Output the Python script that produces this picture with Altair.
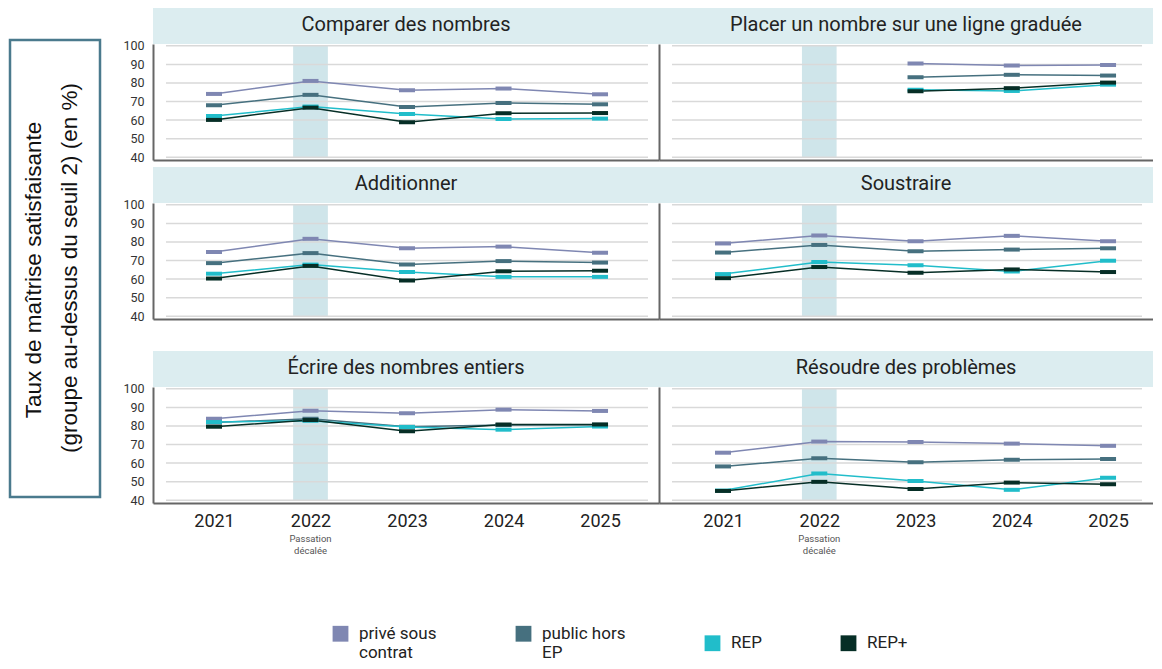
import altair as alt
import pandas as pd

years = [2021, 2022, 2023, 2024, 2025]
series = ["privé sous contrat", "public hors EP", "REP", "REP+"]
colors = ["#7f87b2", "#46707f", "#21bdca", "#062e26"]
skills = [
    "Comparer des nombres",
    "Placer un nombre sur une ligne graduée",
    "Additionner",
    "Soustraire",
    "Écrire des nombres entiers",
    "Résoudre des problèmes",
]
y_ticks = [40, 50, 60, 70, 80, 90, 100]
shifted_year = 2022
title_lines = ["Taux de maîtrise satisfaisante", "(groupe au-dessus du seuil 2) (en %)"]

# values per series, one list per skill (same order as skills)
prive = [
    [74.1, 81.1, 76.1, 77.0, 73.9],
    [None, None, 90.5, 89.4, 89.7],
    [74.6, 81.7, 76.6, 77.5, 74.2],
    [79.2, 83.5, 80.4, 83.3, 80.4],
    [83.9, 88.2, 86.8, 88.8, 88.1],
    [65.6, 71.6, 71.4, 70.5, 69.3],
]
public = [
    [68.0, 73.6, 67.1, 69.2, 68.5],
    [None, None, 83.1, 84.4, 84.0],
    [68.6, 74.0, 67.8, 69.7, 68.9],
    [74.3, 78.4, 75.0, 75.9, 76.6],
    [81.9, 83.9, 79.6, 80.5, 80.7],
    [58.2, 62.6, 60.4, 61.8, 62.2],
]
rep = [
    [62.2, 67.3, 63.3, 60.6, 60.8],
    [None, None, 76.4, 75.7, 79.1],
    [62.9, 67.8, 63.8, 61.2, 61.2],
    [62.7, 69.2, 67.4, 64.1, 69.9],
    [82.1, 82.8, 79.4, 78.0, 79.7],
    [45.2, 54.4, 50.4, 45.6, 52.1],
]
rep_plus = [
    [60.1, 66.7, 58.8, 63.7, 63.8],
    [None, None, 75.5, 77.2, 80.2],
    [60.3, 67.1, 59.2, 64.2, 64.5],
    [60.5, 66.5, 63.4, 65.2, 63.8],
    [79.6, 83.2, 77.2, 80.8, 80.8],
    [45.0, 49.9, 46.1, 49.5, 48.6],
]

rows = []
for s_name, arr in zip(series, [prive, public, rep, rep_plus]):
    for k, skill in enumerate(skills):
        for yr, v in zip(years, arr[k]):
            if v is not None:
                rows.append({"skill": skill, "series": s_name, "year": yr, "value": v})
df = pd.DataFrame(rows)
grid_df = pd.DataFrame({"tick": y_ticks})
band_df = pd.DataFrame({"year": [shifted_year]})

H = 116
STRIP_H = 36
DOMAIN_COLOR = "#666666"
color_scale = alt.Scale(domain=series, range=colors)


def make_legend():
    return alt.Legend(
        orient="none", legendX=323, legendY=617, direction="horizontal", columns=4,
        title=None, symbolType="square", symbolSize=250, symbolStrokeWidth=0,
        symbolOpacity=1,
        labelFontSize=17, labelFont="Roboto", labelColor="#222222", columnPadding=78,
        labelOffset=10, labelLimit=200,
        labelExpr="datum.label == 'privé sous contrat' ? ['privé sous', 'contrat'] : "
                  "datum.label == 'public hors EP' ? ['public hors', 'EP'] : datum.label",
    )


def panel(k, col, row):
    skill = skills[k]
    W = 506 if col == 0 else 494
    xdom = [2020.368, 2025.611] if col == 0 else [2020.335, 2025.467]
    if row == 2:
        xaxis = alt.Axis(values=years, format="d", labelFontSize=18, labelFont="Roboto",
                         labelColor="#222222", ticks=False, domain=True, domainColor=DOMAIN_COLOR,
                         domainWidth=2, grid=False, title=None, labelPadding=9)
    else:
        xaxis = alt.Axis(labels=False, ticks=False, domain=True, domainColor=DOMAIN_COLOR,
                         domainWidth=2, grid=False, title=None, minExtent=0, maxExtent=1)
    if col == 0:
        yaxis = alt.Axis(values=y_ticks, labelFontSize=12.5, labelFont="Roboto", labelColor="#333333",
                         ticks=False, domain=True, domainColor=DOMAIN_COLOR, domainWidth=2,
                         grid=False, title=None, labelPadding=9)
    else:
        yaxis = alt.Axis(labels=False, ticks=False, domain=True, domainColor=DOMAIN_COLOR,
                         domainWidth=2, grid=False, title=None, minExtent=0, maxExtent=1)
    xscale = alt.Scale(domain=xdom, nice=False, zero=False)
    yscale = alt.Scale(domain=[38.5, 101], nice=False, zero=False)

    band = alt.Chart(band_df).transform_calculate(
        x1="datum.year - 0.18", x2="datum.year + 0.18"
    ).mark_rect(color="#cfe5ea").encode(
        x=alt.X("x1:Q", scale=xscale, axis=xaxis),
        x2="x2:Q",
        y=alt.value(2),
        y2=alt.value(H - 3),
    )
    gridlines = alt.Chart(grid_df).mark_rule(color="#d9d9d9", strokeWidth=1.5).encode(
        y=alt.Y("tick:Q", scale=yscale, axis=yaxis),
        x=alt.value(13),
        x2=alt.value(W - 11),
    )
    base = alt.Chart(df).transform_filter(alt.datum.skill == skill)
    lines = base.mark_line(strokeWidth=1.5, opacity=1).encode(
        x=alt.X("year:Q", scale=xscale, axis=xaxis),
        y=alt.Y("value:Q", scale=yscale, axis=yaxis),
        color=alt.Color("series:N", scale=color_scale, legend=make_legend()),
        detail="series:N",
    )
    ticks = base.mark_tick(orient="horizontal", size=16, thickness=4, opacity=1).encode(
        x=alt.X("year:Q", scale=xscale, axis=xaxis),
        y=alt.Y("value:Q", scale=yscale, axis=yaxis),
        color=alt.Color("series:N", scale=color_scale, legend=make_legend()),
    )
    layers = [band, gridlines, lines, ticks]
    if row == 2:
        note = alt.Chart(band_df).mark_text(
            text=["Passation", "décalée"], fontSize=9.5, font="Roboto", color="#555555",
            baseline="top", lineHeight=12,
        ).encode(x=alt.X("year:Q", scale=xscale, axis=xaxis), y=alt.value(H + 31))
        layers.append(note)
    plot = alt.layer(*layers).properties(width=W, height=H)

    strip_data = pd.DataFrame({"t": [skill]})
    strip_bg = alt.Chart(strip_data).mark_rect(fill="#dcedf0").encode(
        x=alt.value(0), x2=alt.value(W), y=alt.value(0), y2=alt.value(STRIP_H)
    )
    strip_txt = alt.Chart(strip_data).mark_text(
        fontSize=20, font="Roboto", color="#222222", baseline="middle", align="center"
    ).encode(x=alt.value(W / 2), y=alt.value(STRIP_H / 2 - 1), text="t:N")
    strip = alt.layer(strip_bg, strip_txt).properties(width=W, height=STRIP_H)
    return alt.vconcat(strip, plot, spacing=0, bounds="flush")


row1 = alt.hconcat(panel(0, 0, 0), panel(1, 1, 0), spacing=0)
row2 = alt.hconcat(panel(2, 0, 1), panel(3, 1, 1), spacing=0)
row3 = alt.hconcat(panel(4, 0, 2), panel(5, 1, 2), spacing=0)
grid = alt.vconcat(alt.vconcat(row1, row2, spacing=3), row3, spacing=28)

title_df = pd.DataFrame({"a": [0]})
title_box = alt.Chart(title_df).mark_rect(
    fill="white", stroke="#4a7a8d", strokeWidth=2.5
).encode(x=alt.value(1), x2=alt.value(91), y=alt.value(32), y2=alt.value(489))
title_l1 = alt.Chart(title_df).mark_text(
    text=title_lines[0], angle=270, fontSize=22.5, font="Liberation Sans", color="#111111",
    align="center", baseline="middle",
).encode(x=alt.value(25), y=alt.value(262))
title_l2 = alt.Chart(title_df).mark_text(
    text=title_lines[1], angle=270, fontSize=22.5, font="Liberation Sans", color="#111111",
    align="center", baseline="middle",
).encode(x=alt.value(61), y=alt.value(260))
title_chart = alt.layer(title_box, title_l1, title_l2).properties(width=92, height=495)

chart = alt.hconcat(title_chart, grid, spacing=20).properties(
    padding={"left": 0, "top": 0, "right": 0, "bottom": 0}
).configure(font="Roboto").configure_view(strokeWidth=0, stroke="transparent")

chart.save("out.html", embed_options={"renderer": "svg", "actions": False})
